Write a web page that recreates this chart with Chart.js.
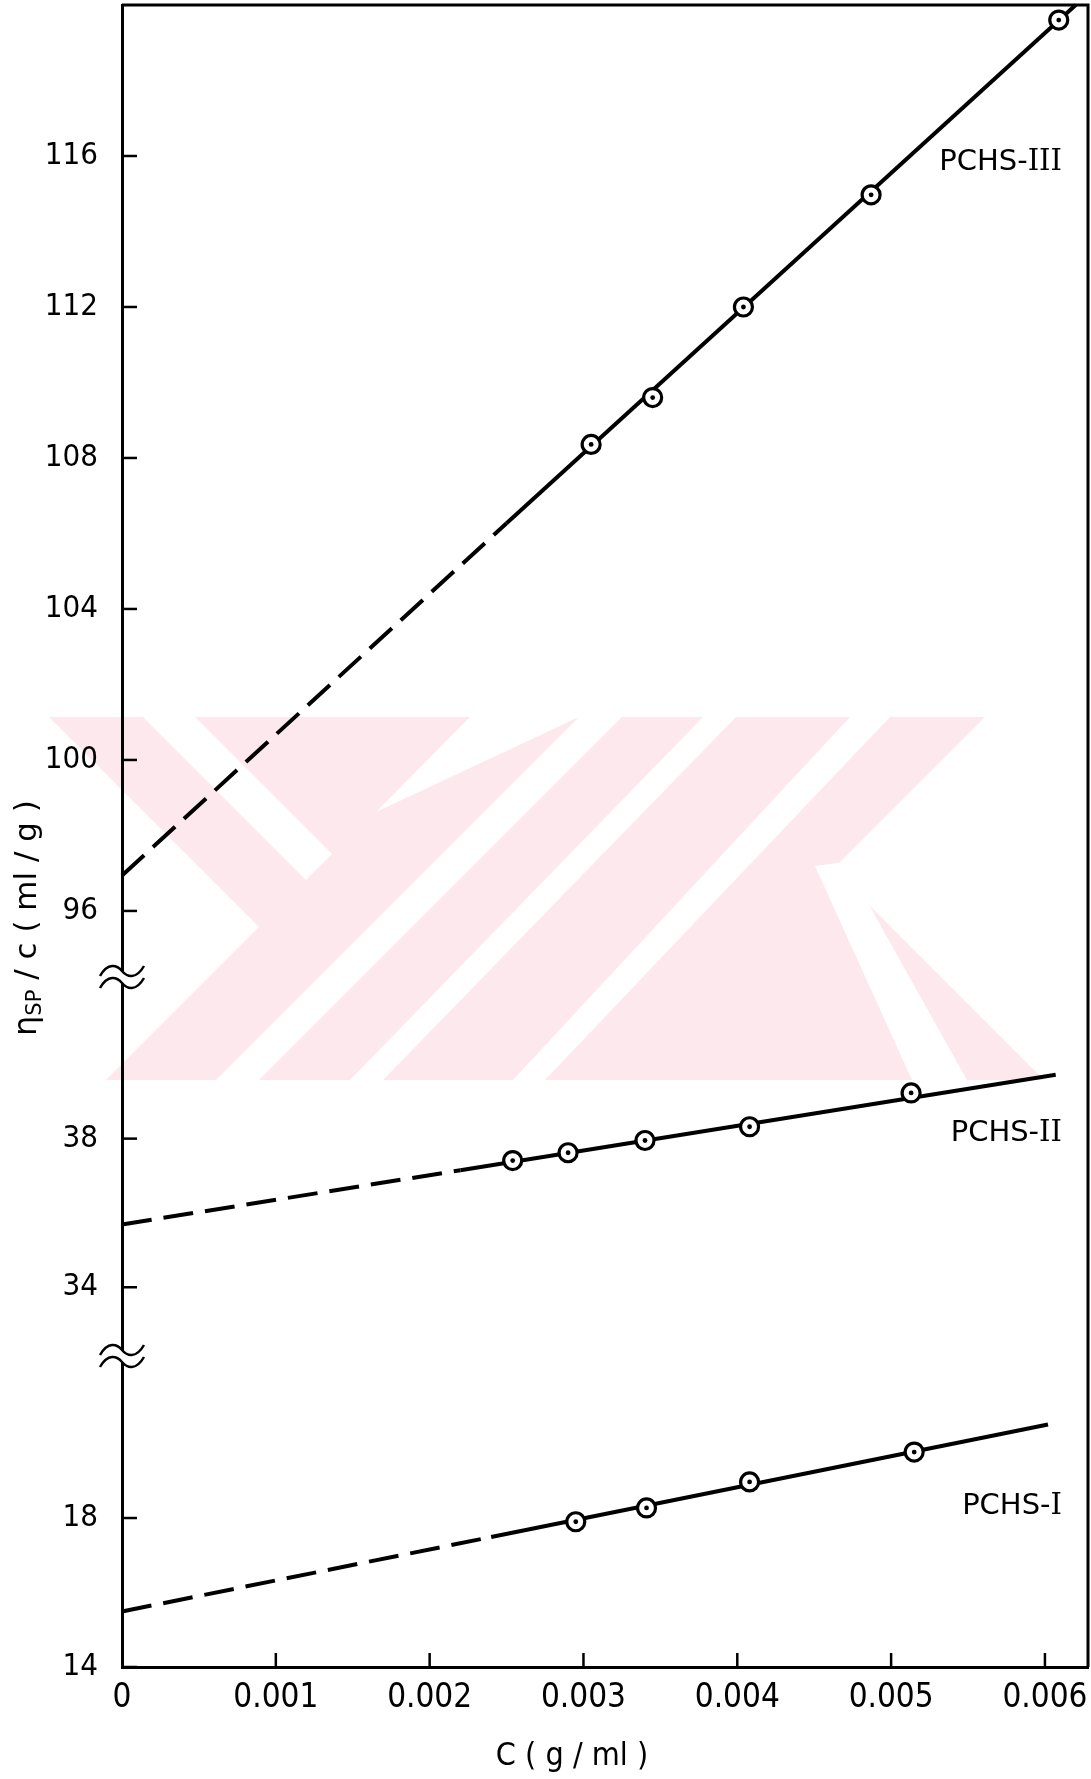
<!DOCTYPE html>
<html>
<head>
<meta charset="utf-8">
<title>Reduced viscosity vs concentration</title>
<script src="https://cdn.jsdelivr.net/npm/chart.js@4/dist/chart.umd.min.js"></script>
<style>
  html, body { margin: 0; padding: 0; background: #fff; }
</style>
</head>
<body>
<canvas id="chart" width="1091" height="1779"></canvas>
<script>
// measured points, C (g/ml) vs eta_sp/c (ml/g)
const concI = [0.00295, 0.00341, 0.00408, 0.00515];
const etaI = [17.90, 18.27, 18.97, 19.77];
const concII = [0.00254, 0.00290, 0.00340, 0.00408, 0.00513];
const etaII = [37.41, 37.62, 37.95, 38.32, 39.23];
const concIII = [0.00305, 0.00345, 0.00404, 0.00487, 0.00609];
const etaIII = [108.36, 109.60, 112.00, 114.97, 119.60];

// fitted lines: intercept, end of the dashed part, end of the line
const fitXI = [0, 0.0024, 0.00602];
const fitYI = [15.49, 17.49, 20.51];
const fitXII = [0, 0.0022, 0.00607];
const fitYII = [35.69, 37.15, 39.72];
const fitXIII = [0, 0.0025, 0.0062];
const fitYIII = [96.94, 106.27, 120.0];

const seriesNames = ['PCHS-I', 'PCHS-II', 'PCHS-III'];

// axis ticks (the y axis is broken into three pieces)
const xTicks = [0, 0.001, 0.002, 0.003, 0.004, 0.005, 0.006];
const yTicksLow = [14, 18];
const yTicksMid = [34, 38];
const yTicksTop = [96, 100, 104, 108, 112, 116];

const numFont = "'Liberation Sans Narrow', 'DejaVu Sans Condensed', sans-serif";
const txtFont = "'DejaVu Sans', sans-serif";

const pts = (xs, ys) => xs.map((x, i) => ({ x: x, y: ys[i] }));

function dotSet(xs, ys, axis) {
  return { data: pts(xs, ys), yAxisID: axis, showLine: false, pointRadius: 2.4,
    pointBackgroundColor: '#000', pointBorderWidth: 0, clip: false, order: 0 };
}
function ringSet(xs, ys, axis) {
  return { data: pts(xs, ys), yAxisID: axis, showLine: false, pointRadius: 9,
    pointBackgroundColor: '#fff', pointBorderColor: '#000', pointBorderWidth: 3.2, clip: false, order: 1 };
}
function fitSet(xs, ys, axis) {
  return { data: pts(xs, ys), yAxisID: axis, showLine: true, borderColor: '#000', borderWidth: 4,
    pointRadius: 0, borderCapStyle: 'butt', clip: false, order: 2,
    segment: { borderDash: ctx => (ctx.p0DataIndex === 0 ? [30, 12] : undefined) } };
}

// the label paddings would push the plot away from the canvas edges
function noEdgePadding(s) {
  s.paddingTop = 0;
  s.paddingBottom = 0;
  s.paddingLeft = 0;
  s.paddingRight = 0;
}

function yScale(min, max, weight, tickList) {
  return {
    type: 'linear', position: 'left', stack: 'eta', stackWeight: weight,
    min: min, max: max,
    grid: { display: false, drawTicks: false },
    border: { display: true, color: '#000', width: 3 },
    ticks: { padding: 24, color: '#000', font: { family: numFont, size: 31 } },
    afterBuildTicks: s => { s.ticks = tickList.map(v => ({ value: v })); },
    afterFit: s => { s.width = 122; noEdgePadding(s); }
  };
}

// pink watermark behind the plot
const watermark = {
  id: 'watermark',
  beforeDraw(chart) {
    const ctx = chart.ctx;
    const poly = (p, c) => {
      ctx.fillStyle = c;
      ctx.beginPath();
      ctx.moveTo(p[0][0], p[0][1]);
      for (let i = 1; i < p.length; i++) ctx.lineTo(p[i][0], p[i][1]);
      ctx.closePath();
      ctx.fill();
    };
    ctx.save();
    poly([[49, 717], [985, 717], [833, 869], [1044, 1080], [106, 1080], [259, 927]], '#fde9ed');
    const w = '#ffffff';
    poly([[143, 717], [195, 717], [332, 854], [306, 880]], w);
    poly([[470, 717], [579, 717], [376, 812]], w);
    poly([[579, 717], [622, 717], [259, 1080], [216, 1080]], w);
    poly([[703, 717], [736, 717], [383, 1080], [350, 1080]], w);
    poly([[850, 717], [890, 717], [545, 1080], [513, 1080]], w);
    poly([[815, 866], [845, 862], [967, 1080], [912, 1080]], w);
    ctx.restore();
  }
};

function drawBreak(ctx, x, y) {
  ctx.save();
  ctx.fillStyle = '#fff';
  ctx.fillRect(x - 4, y - 6, 8, 12);
  ctx.strokeStyle = '#000';
  ctx.lineWidth = 2.5;
  [-6, 6].forEach(d => {
    ctx.beginPath();
    ctx.moveTo(x - 22, y + d + 5);
    ctx.bezierCurveTo(x - 14, y + d - 9, x - 5, y + d - 6, x, y + d);
    ctx.bezierCurveTo(x + 5, y + d + 6, x + 14, y + d + 9, x + 22, y + d - 5);
    ctx.stroke();
  });
  ctx.restore();
}

const decorations = {
  id: 'decorations',
  afterDraw(chart) {
    const { ctx, chartArea: a, scales } = chart;
    ctx.save();
    ctx.strokeStyle = '#000';
    ctx.lineWidth = 3;
    ctx.beginPath();
    ctx.moveTo(a.left, a.top);
    ctx.lineTo(a.right, a.top);
    ctx.lineTo(a.right, a.bottom);
    ctx.stroke();

    // tick marks point into the plot
    ctx.lineWidth = 2.5;
    ['yLow', 'yMid', 'yTop'].forEach(id => {
      const s = scales[id];
      s.ticks.forEach(t => {
        const y = s.getPixelForValue(t.value);
        ctx.beginPath();
        ctx.moveTo(a.left, y);
        ctx.lineTo(a.left + 15, y);
        ctx.stroke();
      });
    });
    scales.x.ticks.forEach(t => {
      if (t.value === 0) return;
      const x = scales.x.getPixelForValue(t.value);
      ctx.beginPath();
      ctx.moveTo(x, a.bottom);
      ctx.lineTo(x, a.bottom - 14);
      ctx.stroke();
    });

    drawBreak(ctx, a.left, scales.yTop.bottom);
    drawBreak(ctx, a.left, scales.yMid.bottom);

    // curve names: "PCHS-" plus a serif roman numeral
    const tags = [[scales.yLow, 18.32], [scales.yMid, 38.13], [scales.yTop, 115.84]];
    ctx.fillStyle = '#000';
    ctx.textBaseline = 'middle';
    seriesNames.forEach((name, i) => {
      const y = tags[i][0].getPixelForValue(tags[i][1]);
      const parts = name.split('-');
      ctx.font = '29px ' + txtFont;
      const w1 = ctx.measureText(parts[0] + '-').width;
      ctx.font = '29px DejaVu Serif, serif';
      const w2 = ctx.measureText(parts[1]).width;
      const x0 = 1062 - w1 - w2;
      ctx.font = '29px ' + txtFont;
      ctx.textAlign = 'left';
      ctx.fillText(parts[0] + '-', x0, y);
      ctx.font = '29px DejaVu Serif, serif';
      ctx.fillText(parts[1], x0 + w1, y);
    });

    // x axis title
    ctx.font = '32px ' + numFont;
    ctx.textAlign = 'center';
    ctx.fillText('C ( g / ml )', 572, 1757);

    // y axis title, rotated, with subscript
    ctx.translate(28, 918);
    ctx.rotate(-Math.PI / 2);
    const pieces = [['η', '32px ' + txtFont, 0], ['SP', '21px ' + txtFont, 8], [' / c ( ml / g )', '31px ' + txtFont, 0]];
    let total = 0;
    pieces.forEach(p => { ctx.font = p[1]; p.push(ctx.measureText(p[0]).width); total += p[3]; });
    let u = -total / 2;
    ctx.textAlign = 'left';
    pieces.forEach(p => {
      ctx.font = p[1];
      ctx.fillText(p[0], u, p[2]);
      u += p[3];
    });
    ctx.restore();
  }
};

new Chart(document.getElementById('chart'), {
  type: 'scatter',
  data: {
    datasets: [
      dotSet(concI, etaI, 'yLow'), dotSet(concII, etaII, 'yMid'), dotSet(concIII, etaIII, 'yTop'),
      ringSet(concI, etaI, 'yLow'), ringSet(concII, etaII, 'yMid'), ringSet(concIII, etaIII, 'yTop'),
      fitSet(fitXI, fitYI, 'yLow'), fitSet(fitXII, fitYII, 'yMid'), fitSet(fitXIII, fitYIII, 'yTop')
    ]
  },
  options: {
    responsive: false,
    animation: false,
    devicePixelRatio: 1,
    layout: { autoPadding: false, padding: { top: 5, right: 3, left: 0, bottom: 0 } },
    plugins: { legend: { display: false }, tooltip: { enabled: false } },
    scales: {
      x: {
        type: 'linear', position: 'bottom', min: 0, max: 0.00628,
        grid: { display: false, drawTicks: false },
        border: { display: true, color: '#000', width: 3 },
        ticks: {
          padding: 12, color: '#000', font: { family: numFont, size: 33 },
          callback: v => (v === 0 ? '0' : v.toFixed(3))
        },
        afterBuildTicks: s => { s.ticks = xTicks.map(v => ({ value: v })); },
        afterFit: s => { s.height = 112; noEdgePadding(s); }
      },
      yLow: yScale(14, 22.35, 311, yTicksLow),
      yMid: yScale(32.15, 42.35, 379, yTicksMid),
      yTop: yScale(94.25, 120, 972, yTicksTop)
    }
  },
  plugins: [watermark, decorations]
});
</script>
</body>
</html>
